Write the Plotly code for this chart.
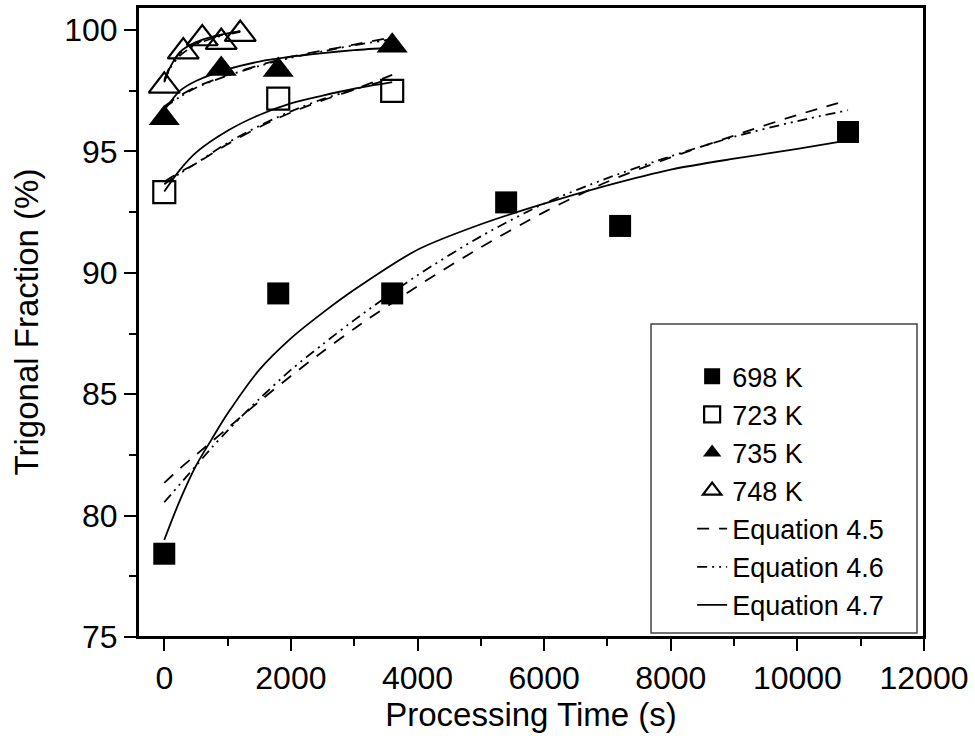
import plotly.graph_objects as go

# ---- measured data points ----
t_698 = [0, 1800, 3600, 5400, 7200, 10800]
f_698 = [78.43, 89.15, 89.15, 92.9, 91.93, 95.8]

t_723 = [0, 1800, 3600]
f_723 = [93.32, 97.17, 97.49]

t_735 = [0, 900, 1800, 3600]
f_735 = [96.37, 98.39, 98.35, 99.35]

t_748 = [0, 300, 600, 900, 1200]
f_748 = [97.70, 99.11, 99.65, 99.50, 99.83]

# ---- fitted curves ----
c698_x = [0, 250, 500, 750, 1000, 1500, 2000, 2500, 3000, 4000, 5000, 6000, 7000, 8000, 9000, 10000, 10800]
c698_eq45 = [81.35, 81.95, 82.5, 83.05, 83.6, 84.7, 85.75, 86.75, 87.7, 89.45, 91.05, 92.5, 93.75, 94.75, 95.65, 96.5, 97.1]
c698_eq46 = [80.55, 81.3, 82.05, 82.8, 83.5, 84.8, 86.0, 87.05, 88.05, 89.9, 91.5, 92.85, 93.9, 94.8, 95.6, 96.25, 96.7]
c698_eq47 = [79.0, 80.65, 82.05, 83.15, 84.2, 86.0, 87.3, 88.35, 89.3, 90.95, 92.0, 92.85, 93.6, 94.25, 94.7, 95.1, 95.45]

c723_x = [0, 250, 500, 1000, 1500, 2000, 2500, 3000, 3600]
c723_eq45 = [93.75, 94.15, 94.5, 95.3, 96.0, 96.6, 97.1, 97.55, 98.15]
c723_eq46 = [93.65, 94.1, 94.5, 95.35, 96.05, 96.65, 97.15, 97.55, 98.0]
c723_eq47 = [93.35, 94.25, 94.95, 95.85, 96.5, 96.98, 97.3, 97.58, 97.85]

c735_x = [0, 250, 500, 1000, 1500, 2000, 2500, 3000, 3600]
c735_eq45 = [96.85, 97.3, 97.65, 98.15, 98.55, 98.9, 99.15, 99.4, 99.7]
c735_eq46 = [96.8, 97.25, 97.62, 98.12, 98.52, 98.86, 99.12, 99.37, 99.62]
c735_eq47 = [96.7, 97.5, 97.9, 98.38, 98.7, 98.9, 99.05, 99.17, 99.28]

c748_x = [0, 100, 250, 500, 750, 1000, 1200]
c748_eq45 = [97.95, 98.55, 99.05, 99.45, 99.68, 99.84, 99.95]
c748_eq46 = [97.9, 98.45, 98.95, 99.4, 99.65, 99.82, 99.92]
c748_eq47 = [97.85, 98.5, 99.1, 99.5, 99.72, 99.86, 99.95]

eq_names = ["Equation 4.5", "Equation 4.6", "Equation 4.7"]
series_names = ["698 K", "723 K", "735 K", "748 K"]

FONT = "Liberation Sans, Arial, sans-serif"
dash_styles = ["12px,10px", "10px,5px,2px,5px,2px,5px", "solid"]

fig = go.Figure()

curves = [
    (c698_x, [c698_eq45, c698_eq46, c698_eq47]),
    (c723_x, [c723_eq45, c723_eq46, c723_eq47]),
    (c735_x, [c735_eq45, c735_eq46, c735_eq47]),
    (c748_x, [c748_eq45, c748_eq46, c748_eq47]),
]
for ci, (cx, ys) in enumerate(curves):
    for ei, cy in enumerate(ys):
        fig.add_trace(go.Scatter(
            x=cx, y=cy, mode="lines", name=eq_names[ei],
            line=dict(color="black", width=1.8, dash=dash_styles[ei], shape="spline", smoothing=0.8),
            showlegend=(ci == 0), legendgroup=eq_names[ei], legendrank=5 + ei,
        ))

marker_specs = [
    (t_698, f_698, dict(symbol="square", size=22, color="black", line=dict(width=0))),
    (t_723, f_723, dict(symbol="square-open", size=22, color="black", line=dict(width=2.2, color="black"))),
    (t_735, f_735, dict(symbol="triangle-up", size=27, color="black", line=dict(width=0))),
    (t_748, f_748, dict(symbol="triangle-up-open", size=27, color="black", line=dict(width=2.2, color="black"))),
]
for i, (tx, fy, mk) in enumerate(marker_specs):
    fig.add_trace(go.Scatter(
        x=tx, y=fy, mode="markers", name=series_names[i], marker=mk,
        legendrank=1 + i,
    ))

axis_common = dict(
    showline=True, linewidth=2, linecolor="black", mirror=True,
    ticks="outside", ticklen=12, tickwidth=2, tickcolor="black",
    showgrid=False, zeroline=False, automargin=False,
    tickfont=dict(family=FONT, size=32, color="black"),
    title_font=dict(family=FONT, size=33, color="black"),
)

fig.update_xaxes(
    range=[-415, 12000], tick0=0, dtick=2000, tickformat="d",
    minor=dict(ticks="outside", ticklen=7, tickwidth=2, tickcolor="black", dtick=1000, tick0=0),
    title_text="Processing Time (s)", title_standoff=0, **axis_common,
)
fig.update_yaxes(
    range=[75, 100.947], tick0=75, dtick=5,
    minor=dict(ticks="outside", ticklen=7, tickwidth=2, tickcolor="black", dtick=2.5, tick0=75),
    title_text="Trigonal Fraction (%)", title_standoff=16, **axis_common,
)

# plot frame (reinforces the mirrored axis lines)
fig.add_shape(type="rect", xref="paper", yref="paper", x0=0, x1=1, y0=0, y1=1,
              line=dict(color="black", width=2), fillcolor="rgba(0,0,0,0)", layer="above")

# legend frame
fig.add_shape(type="rect", xref="paper", yref="paper",
              x0=0.6527, x1=0.9911, y0=0.0063, y1=0.4968,
              line=dict(color="#444444", width=1.5), fillcolor="rgba(0,0,0,0)")

fig.update_layout(
    width=975, height=754,
    margin=dict(l=138, r=51, t=7, b=117),
    paper_bgcolor="white", plot_bgcolor="white",
    font=dict(family=FONT, color="black"),
    legend=dict(
        x=0.705, y=0.452, xanchor="left", yanchor="top",
        bgcolor="rgba(0,0,0,0)", borderwidth=0,
        font=dict(family=FONT, size=27, color="black"),
        tracegroupgap=0, itemwidth=30,
    ),
)

fig.write_html("out.html", config={"displayModeBar": False},
               post_script="document.body.style.margin='0';")
